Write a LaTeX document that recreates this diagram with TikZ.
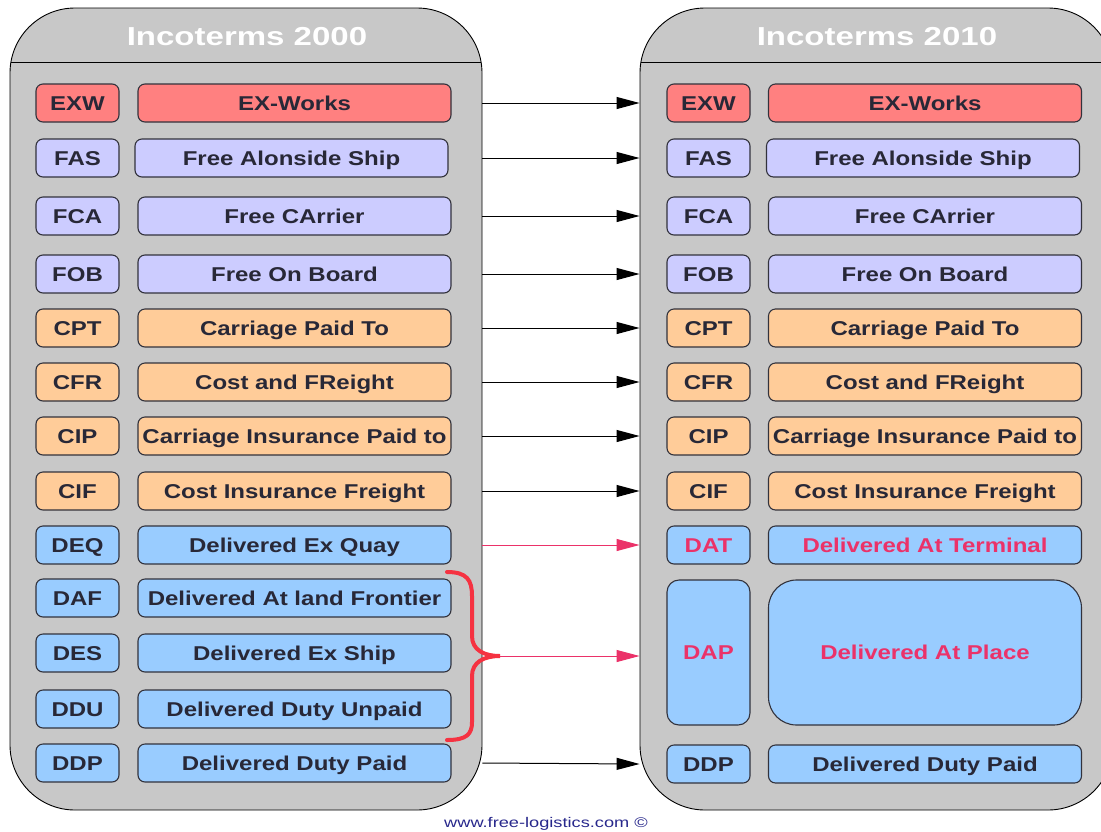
\documentclass[tikz,border=0pt]{standalone}
\usepackage{fontspec}
\setmainfont{Liberation Sans}
\newfontfamily\boxfont[FakeStretch=1.2]{Liberation Sans}
\newfontfamily\headfont[FakeStretch=1.27]{Liberation Sans}
\newfontfamily\creditfont[FakeStretch=1.3]{Liberation Sans}
\usetikzlibrary{arrows.meta}
\definecolor{panelgray}{RGB}{200,200,200}
\definecolor{boxline}{RGB}{50,50,60}
\definecolor{txt}{RGB}{40,40,55}
\definecolor{cred}{RGB}{255,128,128}
\definecolor{clav}{RGB}{204,204,255}
\definecolor{corange}{RGB}{255,204,153}
\definecolor{cblue}{RGB}{153,204,255}
\definecolor{pinktxt}{RGB}{235,50,105}
\definecolor{bracered}{RGB}{245,50,65}
\definecolor{credit}{RGB}{40,40,140}
\tikzset{
  panel/.style={draw=black, line width=0.9pt, fill=panelgray, rounded corners=65pt, inner sep=0pt},
  codebox/.style={draw=boxline, line width=1.1pt, rounded corners=7pt, minimum width=83pt, minimum height=38pt, inner sep=0pt,
    text height=14.3pt, text depth=0pt,
    font=\boxfont\fontsize{20}{20}\selectfont\bfseries, text=txt},
  termbox/.style={codebox, minimum width=313pt},
  headtxt/.style={font=\headfont\fontsize{26}{26}\selectfont\bfseries, text=white, text height=18.6pt, text depth=0pt, inner sep=0pt},
  blackarr/.style={draw=black, line width=1pt, -{Triangle[length=23pt,width=12pt]}},
  pinkarr/.style={draw=pinktxt, line width=0.9pt, -{Triangle[length=23pt,width=12pt]}},
  bracepath/.style={draw=bracered, line width=4pt, line cap=round},
}
\newcommand\Lrow[5]{%
  \node[codebox, fill=#3] (#1c) at (77.5,#2) {#4};
  \node[termbox, fill=#3] (#1t) at (294.5,#2) {#5};}
\newcommand\Rrow[5]{%
  \node[codebox, fill=#3] (#1c) at (708.5,#2) {#4};
  \node[termbox, fill=#3] (#1t) at (925,#2) {#5};}
\begin{document}
\begin{tikzpicture}[x=1pt,y=-1pt]
\useasboundingbox (0,0) rectangle (1101,831);
\clip (0,0) rectangle (1101,831);
\fill[white] (0,0) rectangle (1101,831);
% panels
\node[panel, minimum width=472pt, minimum height=802pt] (L) at (246,409) {};
\node[panel, minimum width=473pt, minimum height=802pt] (R) at (876.5,409) {};
\draw[line width=0.9pt] (11,62) -- (481,62);
\draw[line width=0.9pt] (641,62) -- (1112,62);
\node[headtxt] (Lh) at (247,36) {Incoterms 2000};
\node[headtxt] (Rh) at (877,36) {Incoterms 2010};
% left rows
\Lrow{lexw}{103}{cred}{EXW}{EX-Works}
\node[codebox, fill=clav] (lfasc) at (77.5,158) {FAS};
\node[termbox, fill=clav] (lfast) at (291.5,158) {Free Alonside Ship};
\Lrow{lfca}{216}{clav}{FCA}{Free CArrier}
\Lrow{lfob}{274}{clav}{FOB}{Free On Board}
\Lrow{lcpt}{328}{corange}{CPT}{Carriage Paid To}
\Lrow{lcfr}{382}{corange}{CFR}{Cost and FReight}
\Lrow{lcip}{436}{corange}{CIP}{Carriage Insurance Paid to}
\Lrow{lcif}{491}{corange}{CIF}{Cost Insurance Freight}
\Lrow{ldeq}{545}{cblue}{DEQ}{Delivered Ex Quay}
\Lrow{ldaf}{598}{cblue}{DAF}{Delivered At land Frontier}
\Lrow{ldes}{653}{cblue}{DES}{Delivered Ex Ship}
\Lrow{lddu}{709}{cblue}{DDU}{Delivered Duty Unpaid}
\Lrow{lddp}{763}{cblue}{DDP}{Delivered Duty Paid}
% right rows
\Rrow{rexw}{103}{cred}{EXW}{EX-Works}
\node[codebox, fill=clav] (rfasc) at (708.5,158) {FAS};
\node[termbox, fill=clav] (rfast) at (923,158) {Free Alonside Ship};
\Rrow{rfca}{216}{clav}{FCA}{Free CArrier}
\Rrow{rfob}{274}{clav}{FOB}{Free On Board}
\Rrow{rcpt}{328}{corange}{CPT}{Carriage Paid To}
\Rrow{rcfr}{382}{corange}{CFR}{Cost and FReight}
\Rrow{rcip}{436}{corange}{CIP}{Carriage Insurance Paid to}
\Rrow{rcif}{491}{corange}{CIF}{Cost Insurance Freight}
\node[codebox, fill=cblue, text=pinktxt] (rdatc) at (708.5,545) {DAT};
\node[termbox, fill=cblue, text=pinktxt] (rdatt) at (925,545) {Delivered At Terminal};
\node[codebox, fill=cblue, text=pinktxt, minimum height=145pt, rounded corners=12pt] (rdapc) at (708.5,652.5) {DAP};
\node[termbox, fill=cblue, text=pinktxt, minimum height=145pt, rounded corners=28pt] (rdapt) at (925,652.5) {Delivered At Place};
\Rrow{rddp}{764}{cblue}{DDP}{Delivered Duty Paid}
% brace
\draw[bracepath] (447,572) .. controls (467,572) and (472,580) .. (472,596) -- (472,636)
  .. controls (472,650) and (484,656) .. (500,656)
  .. controls (484,656) and (472,662) .. (472,676) -- (472,722)
  .. controls (472,734) and (467,740) .. (447,740);
\coordinate (bp) at (500,656);
% arrows
\foreach \a/\b in {lexwc/rexwc, lfasc/rfasc, lfcac/rfcac, lfobc/rfobc, lcptc/rcptc, lcfrc/rcfrc, lcipc/rcipc, lcifc/rcifc, lddpc/rddpc}
  \draw[blackarr] (L.east |- \a) -- (R.west |- \b);
\draw[pinkarr] (L.east |- ldeqc) -- (R.west |- rdatc);
\draw[pinkarr] (bp) -- (R.west |- bp);
% credit
\node[font=\creditfont\fontsize{14}{14}\selectfont, text=credit] (cr) at (546,824) {www.free-logistics.com \textcopyright};
\end{tikzpicture}
\end{document}
